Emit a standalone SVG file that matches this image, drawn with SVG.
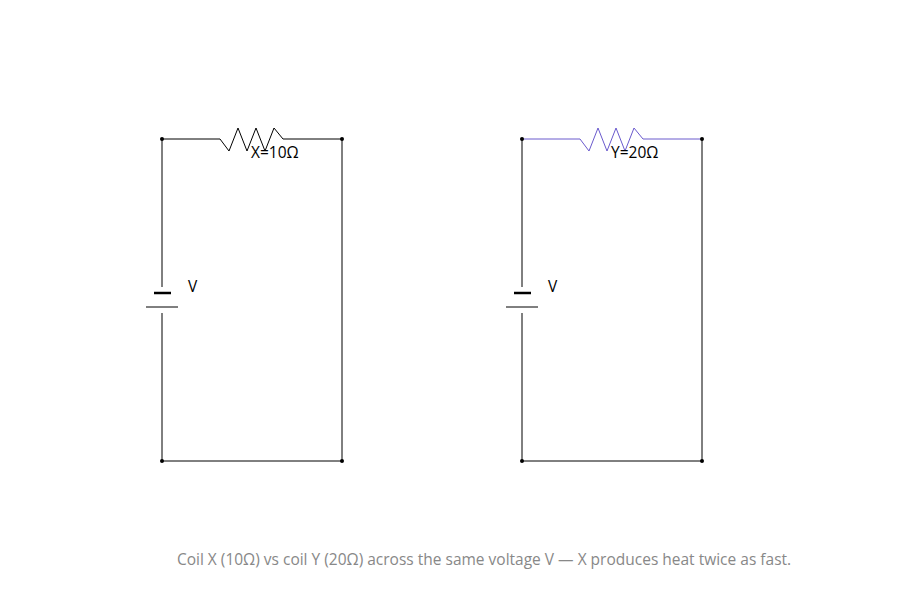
<svg xmlns="http://www.w3.org/2000/svg" width="900" height="600" viewBox="0 0 900 600">
<style>
.w{stroke:#000;stroke-width:1;fill:none}
.t{stroke:#000;stroke-width:2.5;fill:none}
.p{stroke:#6a5acd;stroke-width:1;fill:none}
.d{fill:#000}
text{font-family:"Open Sans","DejaVu Sans",sans-serif;font-size:15.5px;fill:#000}
.cap{fill:#888;font-size:15.5px}
</style>
<rect width="900" height="600" fill="#fff"/>
<g id="connectors">
<path class="w" d="M162,139H220M283,139H342V461H162V313M162,287V139"/>
<path class="p" d="M522,139H580M643,139H702"/>
<path class="w" d="M702,139V461H522V313M522,287V139"/>
</g>
<g id="resistorX"><polyline class="w" points="220,139 229,151 238,128 247,151 256,128 265,151 274,128 283,139"/><text x="251" y="158">X=10Ω</text></g>
<g id="resistorY"><polyline class="p" points="580,139 589,151 598,128 607,151 616,128 625,151 634,128 643,139"/><text x="611" y="158">Y=20Ω</text></g>
<g id="batteryX"><line class="t" x1="154" y1="293" x2="171" y2="293"/><line class="w" x1="146" y1="307" x2="178" y2="307"/><text x="188" y="292">V</text></g>
<g id="batteryY"><line class="t" x1="514" y1="293" x2="531" y2="293"/><line class="w" x1="506" y1="307" x2="538" y2="307"/><text x="548" y="292">V</text></g>
<g id="dots">
<circle class="d" cx="162" cy="139" r="2"/><circle class="d" cx="342" cy="139" r="2"/><circle class="d" cx="162" cy="461" r="2"/><circle class="d" cx="342" cy="461" r="2"/>
<circle class="d" cx="522" cy="139" r="2"/><circle class="d" cx="702" cy="139" r="2"/><circle class="d" cx="522" cy="461" r="2"/><circle class="d" cx="702" cy="461" r="2"/>
</g>
<text class="cap" x="484" y="565" text-anchor="middle">Coil X (10Ω) vs coil Y (20Ω) across the same voltage V — X produces heat twice as fast.</text>
</svg>
